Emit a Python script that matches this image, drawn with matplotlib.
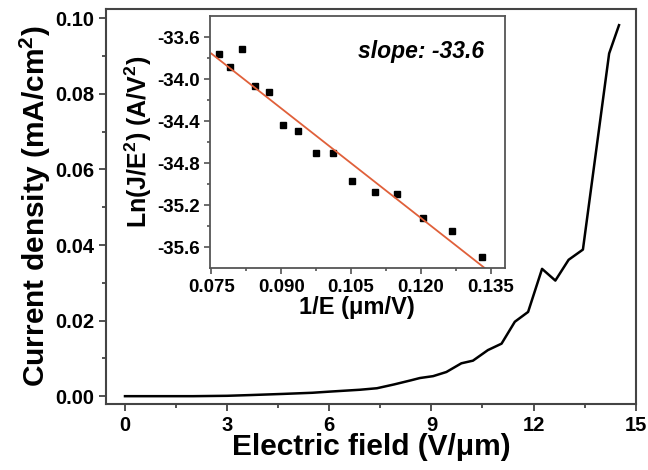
import numpy as np
import matplotlib
matplotlib.use('Agg')
import matplotlib.pyplot as plt

plt.rcParams['font.family'] = ['Liberation Sans', 'DejaVu Sans']
plt.rcParams['font.weight'] = 'bold'
plt.rcParams['mathtext.fontset'] = 'custom'
plt.rcParams['mathtext.rm'] = 'Liberation Sans:bold'
plt.rcParams['mathtext.bf'] = 'Liberation Sans:bold'
plt.rcParams['mathtext.it'] = 'Liberation Sans:bold:italic'

# main curve: current density vs electric field
field = [0, 1.0, 2.0, 3.0, 3.7, 4.65, 5.5, 6.0, 6.9, 7.4, 7.9, 8.4, 8.66, 9.05,
         9.44, 9.88, 10.22, 10.66, 11.06, 11.45, 11.84, 12.25, 12.64, 13.03,
         13.45, 14.22, 14.51]
current = [0.0, 0.0, 0.0, 0.0001, 0.0003, 0.0006, 0.0009, 0.0012, 0.0017,
           0.0021, 0.0031, 0.0042, 0.0048, 0.0053, 0.0064, 0.0087, 0.0094,
           0.0122, 0.0139, 0.0197, 0.0223, 0.0337, 0.0306, 0.0361, 0.0388,
           0.0907, 0.0982]

# inset: F-N plot
inv_e = [0.0766, 0.0791, 0.0816, 0.0843, 0.0873, 0.0903, 0.0937, 0.0974,
         0.1011, 0.1053, 0.1101, 0.1149, 0.1205, 0.1266, 0.1332]
ln_je2 = [-33.76, -33.88, -33.71, -34.06, -34.12, -34.43, -34.49, -34.70,
          -34.70, -34.97, -35.07, -35.09, -35.32, -35.44, -35.69]

fig = plt.figure(figsize=(6.48, 4.70), dpi=100)
ax = fig.add_axes([0.164, 0.141, 0.817, 0.840])
ax.plot(field, current, color='black', lw=1.8)
ax.set_xlim(-0.55, 15)
ax.set_ylim(-0.002, 0.1025)
ax.set_xticks([0, 3, 6, 9, 12, 15])
ax.set_xticks(np.arange(1.5, 15, 3), minor=True)
ax.set_yticks([0.00, 0.02, 0.04, 0.06, 0.08, 0.10])
ax.set_yticks([0.01, 0.03, 0.05, 0.07, 0.09], minor=True)
ax.set_yticklabels(['0.00', '0.02', '0.04', '0.06', '0.08', '0.10'])
ax.tick_params(which='major', direction='out', length=5, width=1.2, labelsize=14.5, colors='#333333', labelcolor='black')
ax.tick_params(which='minor', direction='out', length=3, width=1.2, colors='#333333')
for s in ax.spines.values():
    s.set_linewidth(1.5)
    s.set_color('#444444')
ax.set_xlabel('Electric field (V/μm)', fontsize=21.5, fontweight='bold', labelpad=-1)
ax.set_ylabel('Current density (mA/cm$^2$)', fontsize=21.5, fontweight='bold', labelpad=2)

ins = fig.add_axes([0.324, 0.429, 0.455, 0.536])
ins.plot(inv_e, ln_je2, 's', color='black', ms=5)
k, b = np.polyfit(inv_e, ln_je2, 1)
xs = np.array([0.075, 0.135])
ins.plot(xs, k * xs + b, color='#e0603a', lw=1.3)
ins.set_xlim(0.0747, 0.138)
ins.set_ylim(-35.8, -33.4)
ins.set_xticks([0.075, 0.090, 0.105, 0.120, 0.135])
ins.set_xticklabels(['0.075', '0.090', '0.105', '0.120', '0.135'])
ins.set_xticks([0.0825, 0.0975, 0.1125, 0.1275], minor=True)
ins.set_yticks([-33.6, -34.0, -34.4, -34.8, -35.2, -35.6])
ins.set_yticklabels(['-33.6', '-34.0', '-34.4', '-34.8', '-35.2', '-35.6'])
ins.set_yticks([-33.8, -34.2, -34.6, -35.0, -35.4], minor=True)
ins.tick_params(which='major', direction='out', length=4, width=1.1, labelsize=13.5, colors='#444444', labelcolor='black')
ins.tick_params(which='minor', direction='out', length=2.5, width=1.1, colors='#444444')
for s in ins.spines.values():
    s.set_linewidth(1.3)
    s.set_color('#555555')
ins.set_xlabel('1/E (μm/V)', fontsize=17, fontweight='bold', labelpad=0)
ins.set_ylabel('Ln(J/E$^2$) (A/V$^2$)', fontsize=18, fontweight='bold', labelpad=2)
ins.text(0.93, 0.86, 'slope: -33.6', transform=ins.transAxes, ha='right', va='center',
         fontsize=16.5, fontweight='bold', fontstyle='italic')

fig.savefig('out.png', dpi=100)
